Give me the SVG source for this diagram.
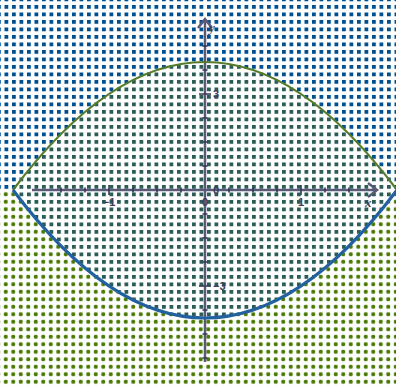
<svg xmlns="http://www.w3.org/2000/svg" width="396" height="386" viewBox="0 0 396 386">
<style>
.ax{stroke:#5a5a78;stroke-width:2.5;fill:none}
.tk{stroke:#363656;stroke-width:1.6}
.lb{font-family:"Liberation Sans",Arial,sans-serif;font-size:11px;font-weight:bold;fill:#3e3e5c}
.it{font-family:"Liberation Serif",serif;font-size:13px;font-style:italic;font-weight:bold;fill:#3e3e5c}
</style>
<defs>
<pattern id="pb" x="4.5" y="5" width="7.5" height="7.5" patternUnits="userSpaceOnUse"><rect width="3.8" height="3.8" fill="#004f8e"/></pattern>
<pattern id="pt" x="4.5" y="5" width="7.5" height="7.5" patternUnits="userSpaceOnUse"><rect width="3.8" height="3.8" fill="#2c5c56"/></pattern>
<pattern id="pg" x="2" y="3" width="7.5" height="7.5" patternUnits="userSpaceOnUse"><circle cx="3.75" cy="3.75" r="2.1" fill="#4a7a04"/></pattern>
</defs>
<rect width="396" height="386" fill="#ffffff"/>
<g id="regions">
<path d="M0,0 H396 V190 L397,190 Q205,-66 13,190 H0 Z" fill="url(#pb)"/>
<path d="M0,386 H396 V190 L397,190 Q205,446 13,190 H0 Z" fill="url(#pg)"/>
<path d="M13,190 Q205,-66 397,190 Q205,446 13,190 Z" fill="url(#pt)"/>
</g>
<g id="axes">
<path class="ax" d="M32,190 H377 M368,183 L377,190 L368,197"/>
<path class="ax" d="M205,362 V19 M198,28 L205,19 L212,28"/>
<path class="tk" d="M109,185 V195 M301,185 V195 M61,187.5 V192.5 M85,187.5 V192.5 M133,187.5 V192.5 M157,187.5 V192.5 M181,187.5 V192.5 M229,187.5 V192.5 M253,187.5 V192.5 M277,187.5 V192.5 M325,187.5 V192.5 M349,187.5 V192.5"/>
<path class="tk" d="M199,94 H211 M199,286 H211 M202.5,46 H207.5 M202.5,70 H207.5 M202.5,118 H207.5 M202.5,142 H207.5 M202.5,166 H207.5 M202.5,214 H207.5 M202.5,238 H207.5 M202.5,262 H207.5 M202.5,310 H207.5 M202.5,334 H207.5 M202.5,358 H207.5"/>
</g>
<g id="curves">
<path d="M13,190 Q205,-66 397,190" fill="none" stroke="#567c2a" stroke-width="2.2"/>
<path d="M13,190 Q205,446 397,190" fill="none" stroke="#22609f" stroke-width="3.2"/>
</g>
<g id="labels">
<text class="lb" x="109" y="206" text-anchor="middle">−1</text>
<text class="lb" x="205" y="206" text-anchor="middle">0</text>
<text class="lb" x="301" y="206" text-anchor="middle">1</text>
<text class="lb" x="213" y="98">3</text>
<text class="lb" x="213" y="194">0</text>
<text class="lb" x="213" y="290">−3</text>
<text class="it" x="209" y="32">y</text>
<text class="it" x="365" y="207">x</text>
</g>
</svg>
